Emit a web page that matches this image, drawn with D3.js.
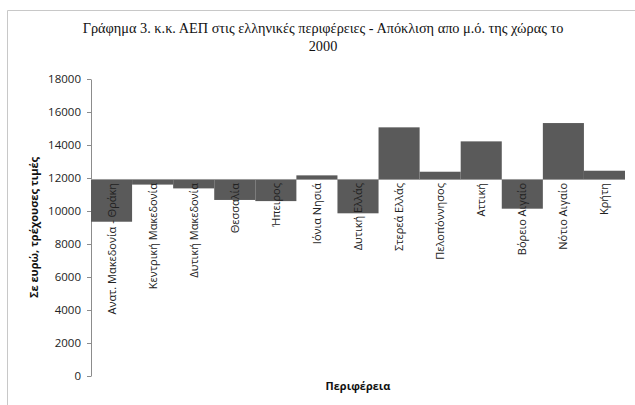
<!DOCTYPE html>
<html>
<head>
<meta charset="utf-8">
<script src="https://cdn.jsdelivr.net/npm/d3@7"></script>
<style>
  body { margin: 0; background: #fff; }
  svg { display: block; }
</style>
</head>
<body>
<div id="chart"></div>
<script>
//Datos
const regions = ['Ανατ. Μακεδονία - Θράκη', 'Κεντρική Μακεδονία', 'Δυτική Μακεδονία', 'Θεσσαλία', 'Ήπειρος',
  'Ιόνια Νησιά', 'Δυτική Ελλάς', 'Στερεά Ελλάς', 'Πελοπόννησος', 'Αττική', 'Βόρειο Αιγαίο', 'Νότιο Αιγαίο', 'Κρήτη'];
const gdpValues = [9350, 11600, 11370, 10670, 10600, 12160, 9860, 15070, 12380, 14220, 10140, 15330, 12440];
const countryAvg = 11940;
const yTicks = [0, 2000, 4000, 6000, 8000, 10000, 12000, 14000, 16000, 18000];

const W = 635, H = 405;
const margin = {top: 79, right: 10, bottom: 29, left: 91};
const width = 625 - margin.left,
      height = 376 - margin.top;

const svg = d3.select('#chart').append('svg')
  .attr('width', W).attr('height', H);

//Marco
svg.append('path')
  .attr('d', 'M7.5,' + H + 'V10.5H' + W)
  .attr('fill', 'none').attr('stroke', '#c8c8c8');

//Título
const title = svg.append('text')
  .attr('text-anchor', 'middle')
  .attr('font-family', '"Liberation Serif", "DejaVu Serif", serif')
  .attr('font-size', 14.3).attr('fill', '#111');
title.append('tspan').attr('x', 323).attr('y', 33)
  .text('Γράφημα 3. κ.κ. ΑΕΠ στις ελληνικές περιφέρειες - Απόκλιση απο μ.ό. της χώρας το');
title.append('tspan').attr('x', 323).attr('y', 51).text('2000');

const chart = svg.append('g')
  .attr('transform', 'translate(' + margin.left + ',' + margin.top + ')');

//Escalas
const x = d3.scaleBand().domain(regions).range([0, width]).padding(0);
const y = d3.scaleLinear().domain([0, 18000]).range([height, 0]);

//Eje Y
const yAxis = chart.append('g')
  .call(d3.axisLeft(y).tickValues(yTicks).tickFormat(d3.format('d')).tickSize(4).tickSizeOuter(0).tickPadding(6));
yAxis.select('.domain').attr('stroke', '#8c8c8c');
yAxis.selectAll('.tick line').attr('stroke', '#8c8c8c');
yAxis.selectAll('.tick text')
  .attr('font-family', '"Open Sans", sans-serif').attr('font-size', 11.5).attr('fill', '#222');

//Barras flotantes desde la media
chart.selectAll('rect.bar')
  .data(gdpValues)
  .enter().append('rect')
  .attr('class', 'bar')
  .attr('x', (d, i) => x(regions[i]))
  .attr('width', x.bandwidth())
  .attr('y', d => y(Math.max(d, countryAvg)))
  .attr('height', d => Math.abs(y(d) - y(countryAvg)))
  .attr('fill', '#5a5a5a');

//Eje de categorías en la media
chart.append('line')
  .attr('x1', 0).attr('x2', width)
  .attr('y1', Math.round(y(countryAvg)) + 0.5).attr('y2', Math.round(y(countryAvg)) + 0.5)
  .attr('stroke', '#9a9a9a');

chart.selectAll('text.cat')
  .data(regions)
  .enter().append('text')
  .attr('class', 'cat')
  .attr('transform', d => 'translate(' + (x(d) + x.bandwidth() / 2 + 4) + ',' + (y(countryAvg) + 4) + ') rotate(-90)')
  .attr('text-anchor', 'end')
  .attr('font-family', '"Open Sans", sans-serif').attr('font-size', 11).attr('fill', '#222')
  .text(d => d);

//Títulos de ejes
svg.append('text')
  .attr('transform', 'translate(38,' + (margin.top + height / 2) + ') rotate(-90)')
  .attr('text-anchor', 'middle')
  .attr('font-family', '"Open Sans", sans-serif').attr('font-size', 11).attr('font-weight', 'bold').attr('fill', '#111')
  .text('Σε ευρώ, τρέχουσες τιμές');

svg.append('text')
  .attr('x', margin.left + width / 2).attr('y', 390)
  .attr('text-anchor', 'middle')
  .attr('font-family', '"Open Sans", sans-serif').attr('font-size', 11).attr('font-weight', 'bold').attr('fill', '#111')
  .text('Περιφέρεια');
</script>
</body>
</html>
